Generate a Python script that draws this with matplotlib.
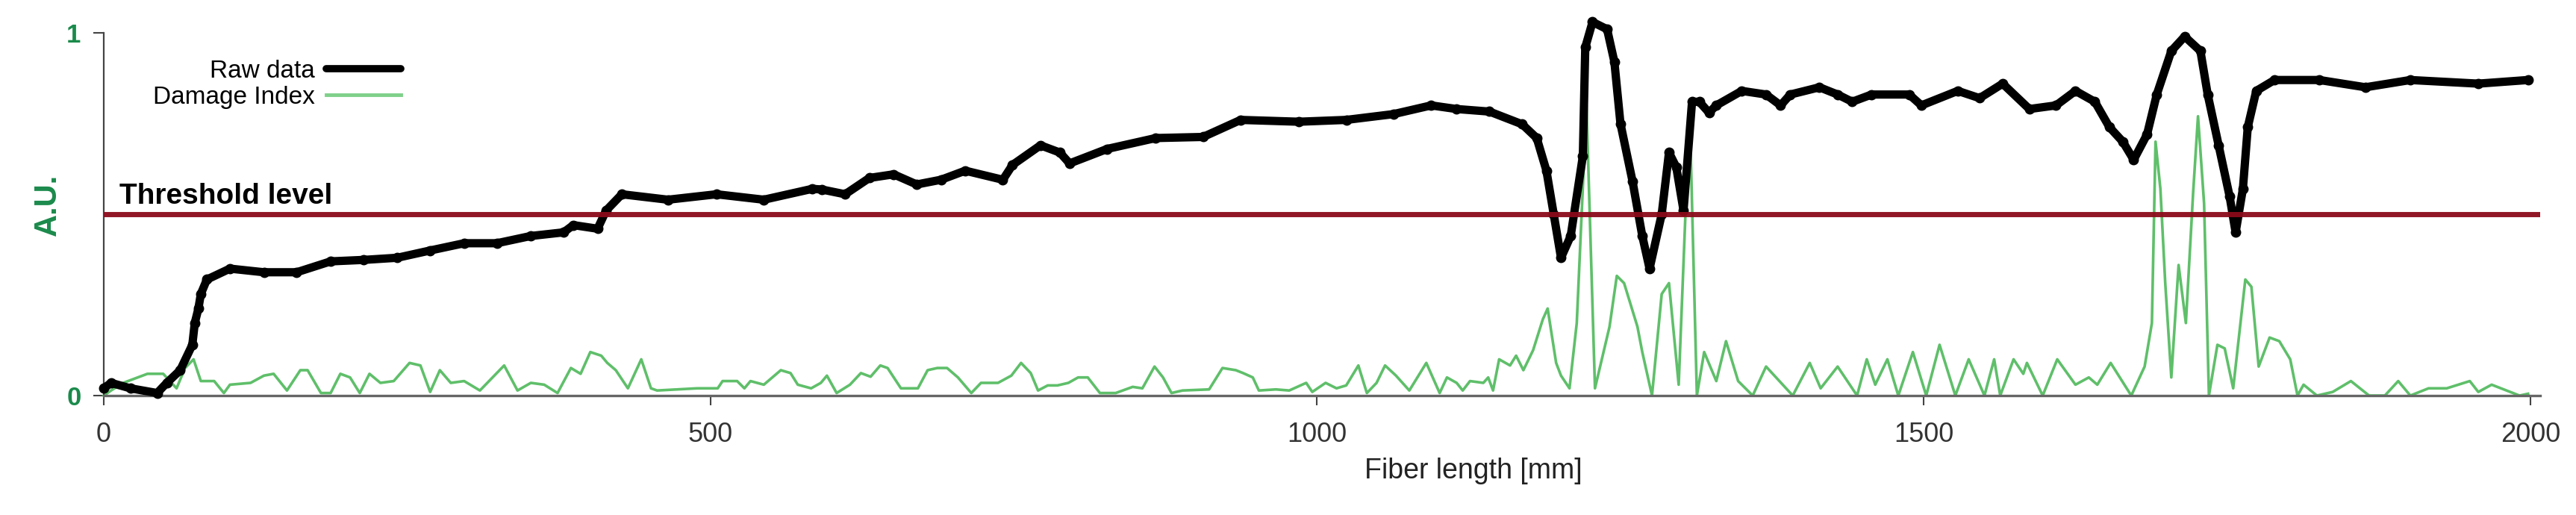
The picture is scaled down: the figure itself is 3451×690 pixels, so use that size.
import matplotlib
matplotlib.use("Agg")
import matplotlib.pyplot as plt
from matplotlib.lines import Line2D

plt.rcParams['font.family'] = ['Liberation Sans', 'DejaVu Sans']

# raw trace (mm, arbitrary units)
raw_x = [0, 6, 22, 44, 52, 63, 73, 75, 78, 80, 85, 104, 132, 159, 187, 214, 242, 269,
         297, 324, 352, 379, 387, 407, 414, 427, 465, 505, 544, 584, 592, 611, 631, 651,
         670, 690, 710, 741, 749, 772, 788, 796, 827, 867, 906, 937, 985, 1024, 1063,
         1094, 1115, 1142, 1169, 1181, 1189, 1195, 1201, 1209, 1219, 1221, 1227, 1239,
         1245, 1250, 1260, 1268, 1274, 1284, 1290, 1296, 1302, 1309, 1315, 1323, 1329,
         1350, 1370, 1382, 1390, 1414, 1429, 1441, 1457, 1488, 1498, 1528, 1546, 1565,
         1587, 1609, 1625, 1641, 1653, 1664, 1673, 1684, 1692, 1704, 1715, 1728, 1734,
         1743, 1752, 1757, 1763, 1767, 1774, 1789, 1826, 1864, 1901, 1957, 1998]
raw_y = [0.02, 0.035, 0.02, 0.007, 0.035, 0.07, 0.14, 0.20, 0.24, 0.28, 0.32, 0.35, 0.34,
         0.34, 0.37, 0.374, 0.38, 0.40, 0.42, 0.42, 0.44, 0.45, 0.47, 0.46, 0.51, 0.555,
         0.54, 0.555, 0.54, 0.57, 0.568, 0.555, 0.60, 0.61, 0.582, 0.595, 0.62, 0.595,
         0.636, 0.69, 0.67, 0.64, 0.68, 0.71, 0.713, 0.76, 0.755, 0.76, 0.776, 0.80,
         0.79, 0.783, 0.748, 0.71, 0.62, 0.50, 0.38, 0.44, 0.66, 0.96, 1.03, 1.01, 0.92,
         0.75, 0.59, 0.44, 0.35, 0.50, 0.67, 0.63, 0.51, 0.81, 0.81, 0.78, 0.80, 0.84,
         0.83, 0.80, 0.83, 0.85, 0.83, 0.81, 0.83, 0.83, 0.80, 0.84, 0.82, 0.86, 0.79,
         0.80, 0.84, 0.81, 0.74, 0.70, 0.65, 0.72, 0.83, 0.95, 0.99, 0.95, 0.83, 0.69,
         0.55, 0.45, 0.57, 0.74, 0.84, 0.87, 0.87, 0.85, 0.87, 0.86, 0.87]

# damage index
dmg_x = [0, 6, 16, 36, 49, 60, 67, 74, 80, 91, 99, 104, 121, 132, 140, 151, 162, 168,
         179, 187, 195, 203, 211, 219, 228, 239, 252, 261, 269, 277, 286, 297, 310, 330,
         341, 352, 363, 374, 385, 393, 401, 410, 415, 422, 432, 443, 451, 456, 489, 506,
         510, 522, 528, 533, 544, 558, 566, 572, 583, 591, 596, 604, 615, 624, 632, 640,
         646, 657, 671, 679, 687, 695, 704, 715, 723, 737, 748, 756, 764, 770, 778, 786,
         795, 803, 811, 821, 834, 848, 856, 866, 873, 880, 889, 911, 922, 933, 939, 947,
         952, 966, 977, 991, 996, 1007, 1016, 1024, 1034, 1041, 1049, 1056, 1065, 1076,
         1090, 1101, 1107, 1115, 1120, 1126, 1137, 1141, 1145, 1150, 1159, 1164, 1170,
         1178, 1186, 1190, 1197, 1201, 1208, 1214, 1222, 1229, 1241, 1247, 1253, 1264,
         1268, 1276, 1284, 1290, 1298, 1307, 1313, 1319, 1329, 1337, 1347, 1359, 1370,
         1392, 1406, 1415, 1429, 1445, 1453, 1460, 1470, 1479, 1491, 1502, 1513, 1526,
         1537, 1550, 1558, 1563, 1574, 1582, 1585, 1598, 1610, 1625, 1636, 1643, 1654,
         1671, 1682, 1688, 1691, 1695, 1699, 1704, 1710, 1716, 1722, 1726, 1731, 1735,
         1742, 1748, 1755, 1765, 1770, 1776, 1785, 1793, 1802, 1808, 1813, 1824, 1837,
         1852, 1867, 1880, 1891, 1901, 1916, 1931, 1950, 1957, 1968, 1991, 1998]
dmg_y = [0.0, 0.014, 0.035, 0.06, 0.06, 0.02, 0.076, 0.10, 0.04, 0.04, 0.007, 0.03,
         0.035, 0.055, 0.06, 0.014, 0.07, 0.07, 0.007, 0.007, 0.06, 0.05, 0.007, 0.06,
         0.035, 0.04, 0.09, 0.083, 0.01, 0.07, 0.035, 0.04, 0.014, 0.083, 0.014, 0.035,
         0.03, 0.007, 0.076, 0.06, 0.12, 0.11, 0.09, 0.07, 0.02, 0.10, 0.02, 0.014, 0.02,
         0.02, 0.04, 0.04, 0.02, 0.04, 0.03, 0.07, 0.062, 0.03, 0.02, 0.035, 0.055,
         0.007, 0.03, 0.062, 0.052, 0.083, 0.076, 0.02, 0.02, 0.07, 0.076, 0.076, 0.05,
         0.007, 0.035, 0.035, 0.055, 0.09, 0.062, 0.014, 0.028, 0.028, 0.035, 0.05, 0.05,
         0.007, 0.007, 0.024, 0.02, 0.08, 0.05, 0.007, 0.014, 0.017, 0.076, 0.07, 0.062,
         0.05, 0.014, 0.017, 0.014, 0.035, 0.01, 0.035, 0.02, 0.028, 0.083, 0.007, 0.035,
         0.083, 0.055, 0.014, 0.09, 0.007, 0.05, 0.035, 0.014, 0.04, 0.035, 0.05, 0.014,
         0.10, 0.083, 0.11, 0.07, 0.125, 0.21, 0.24, 0.09, 0.055, 0.02, 0.20, 0.80, 0.02,
         0.19, 0.33, 0.31, 0.19, 0.12, 0.0, 0.28, 0.31, 0.03, 0.79, 0.0, 0.12, 0.04, 0.15,
         0.04, 0.0, 0.08, 0.0, 0.09, 0.02, 0.08, 0.0, 0.10, 0.03, 0.10, 0.0, 0.12, 0.0,
         0.14, 0.0, 0.10, 0.0, 0.10, 0.0, 0.10, 0.06, 0.09, 0.0, 0.10, 0.03, 0.05, 0.03,
         0.09, 0.0, 0.08, 0.20, 0.70, 0.57, 0.31, 0.05, 0.36, 0.20, 0.56, 0.77, 0.53, 0.0,
         0.14, 0.13, 0.02, 0.32, 0.30, 0.08, 0.16, 0.15, 0.10, 0.0, 0.03, 0.0, 0.01, 0.04,
         0.0, 0.0, 0.04, 0.0, 0.02, 0.02, 0.04, 0.01, 0.03, 0.0, 0.005]

threshold = 0.5
xticks = [0, 500, 1000, 1500, 2000]
yticks = [0, 1]

green_dark = '#1b8a4b'
green_line = '#5fbf6a'

fig = plt.figure(figsize=(34.51, 6.9), dpi=100)
ax = fig.add_axes([139 / 3451, 0.2319, 3264 / 3451, 0.7043])

ax.plot(dmg_x, dmg_y, color=green_line, lw=2.6, zorder=2, clip_on=False)
ax.plot(raw_x, raw_y, color='black', lw=8, marker='o', ms=9,
        solid_joinstyle='round', solid_capstyle='round', zorder=3, clip_on=False)
ax.axhline(threshold, color='#8b0a1a', lw=5, zorder=4, alpha=0.95)
ax.text(13, 0.529, 'Threshold level', fontsize=28, fontweight='bold',
        va='baseline', ha='left', zorder=5)

ax.set_xlim(0, 2008)
ax.set_ylim(0, 1)
ax.set_xticks(xticks)
ax.set_yticks(yticks)
ax.tick_params(axis='x', direction='out', length=9.5, width=1.5, color='#444444',
               labelsize=26, labelcolor='#333333', pad=16)
ax.tick_params(axis='y', direction='out', length=10, width=1.5, color='#444444',
               labelsize=25, labelcolor=green_dark, pad=12)
for lab in ax.get_yticklabels():
    lab.set_fontweight('bold')

for s in ['top', 'right']:
    ax.spines[s].set_visible(False)
ax.spines['bottom'].set_color('#666666')
ax.spines['bottom'].set_linewidth(2.4)
ax.spines['left'].set_color('#444444')
ax.spines['left'].set_linewidth(1.6)

ax.set_xlabel('Fiber length [mm]', fontsize=27, color='#222222')
ax.xaxis.set_label_coords(0.562, -0.17)
ax.set_ylabel('A.U.', fontsize=30, fontweight='bold', color=green_dark)
ax.yaxis.set_label_coords(-0.017, 0.525)

handles = [Line2D([], [], color='black', lw=7, solid_capstyle='round'),
           Line2D([], [], color='#7fd08a', lw=3.5)]
fig.legend(handles, ['Raw data', 'Damage Index'], loc='upper right',
           bbox_to_anchor=(537 / 3451, 1 - 80 / 690), frameon=False, markerfirst=False,
           fontsize=24, handlelength=3.0, handletextpad=0.45, labelspacing=0.12,
           borderpad=0, borderaxespad=0)

fig.savefig('out.png', dpi=100)
